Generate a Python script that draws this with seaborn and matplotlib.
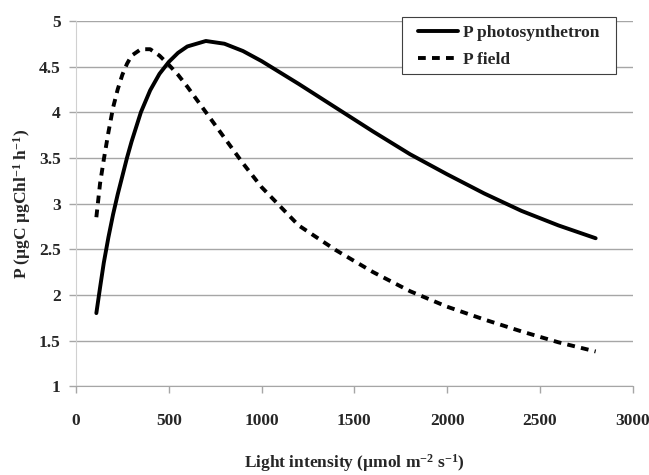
import pandas as pd
import matplotlib
matplotlib.use("Agg")
import matplotlib.pyplot as plt
from matplotlib.patches import Rectangle
import seaborn as sns

# light intensity (umol m-2 s-1) and the two P curves
light = [110, 130, 150, 175, 200, 225, 250, 275, 300, 350, 400, 450, 500, 550, 600, 700,
         800, 900, 1000, 1200, 1400, 1600, 1800, 2000, 2200, 2400, 2600, 2800]
p_photosynthetron = [1.80, 2.08, 2.35, 2.63, 2.88, 3.10, 3.30, 3.50, 3.68, 4.00, 4.24, 4.42,
                     4.55, 4.65, 4.72, 4.78, 4.75, 4.67, 4.56, 4.31, 4.05, 3.79, 3.54, 3.32,
                     3.11, 2.92, 2.76, 2.62]
p_field = [2.85, 3.22, 3.48, 3.78, 4.05, 4.25, 4.41, 4.53, 4.62, 4.69, 4.69, 4.62,
           4.52, 4.41, 4.28, 4.00, 3.72, 3.44, 3.18, 2.76, 2.49, 2.25, 2.04, 1.87,
           1.73, 1.60, 1.48, 1.38]
series_names = ['P photosynthetron', 'P field']

df = pd.concat([
    pd.DataFrame({'light': light, 'P': p_photosynthetron, 'series': series_names[0]}),
    pd.DataFrame({'light': light, 'P': p_field, 'series': series_names[1]}),
])

sns.set_style("white")
plt.rcParams['font.family'] = ['Liberation Serif', 'DejaVu Serif']
plt.rcParams['font.weight'] = 'bold'
plt.rcParams['mathtext.default'] = 'regular'

fig = plt.figure(figsize=(6.49, 4.75), dpi=100)
ax = fig.add_axes([0.117, 0.187, 0.858, 0.769])

sns.lineplot(data=df, x='light', y='P', hue='series', style='series',
             palette={series_names[0]: 'black', series_names[1]: 'black'},
             dashes={series_names[0]: '', series_names[1]: (2.0, 1.6)},
             linewidth=2.8, ax=ax, sort=False)

ax.set_xlim(0, 3000)
ax.set_ylim(1, 5)
ax.set_xticks(range(0, 3001, 500))
ax.set_yticks([1, 1.5, 2, 2.5, 3, 3.5, 4, 4.5, 5])
ax.set_yticklabels(['1', '1.5', '2', '2.5', '3', '3.5', '4', '4.5', '5'])

ax.grid(axis='y', color='#a6a6a6', linewidth=1)
ax.set_axisbelow(True)
for side in ['top', 'right']:
    ax.spines[side].set_visible(False)
ax.spines['left'].set_color('#d0d0d0')
ax.spines['bottom'].set_color('#a6a6a6')
ax.tick_params(axis='x', direction='out', length=5, color='#a6a6a6', width=1,
               labelsize=12.5, pad=14, bottom=True)
ax.tick_params(axis='y', direction='out', length=5, color='#a6a6a6', width=1,
               labelsize=12.5, pad=6, left=True)
for lbl in ax.get_xticklabels() + ax.get_yticklabels():
    lbl.set_fontweight('bold')

ax.set_xlabel('Light intensity (µmol m$^{-2}$ s$^{-1}$)', fontsize=12.5, fontweight='bold', labelpad=17)
ax.set_ylabel('P (µgC µgChl$^{-1}$ h$^{-1}$)', fontsize=12.5, fontweight='bold', labelpad=4)

# legend box drawn separately so the padding matches the original
ax.add_patch(Rectangle((402 / 649, 1 - 74 / 475), 214 / 649, 57 / 475,
                       transform=fig.transFigure, facecolor='white', clip_on=False,
                       edgecolor='#404040', linewidth=0.8, zorder=4.9))
handles, labels = ax.get_legend_handles_labels()
leg = ax.legend(handles, labels, loc='upper left', bbox_to_anchor=(418 / 649, 1 - 25 / 475),
                bbox_transform=fig.transFigure, borderaxespad=0, frameon=False,
                handlelength=2.3, handletextpad=0.3, borderpad=0, labelspacing=0.62,
                prop={'weight': 'bold', 'size': 12.5})
leg.set_zorder(6)

fig.savefig('out.png', dpi=100)
